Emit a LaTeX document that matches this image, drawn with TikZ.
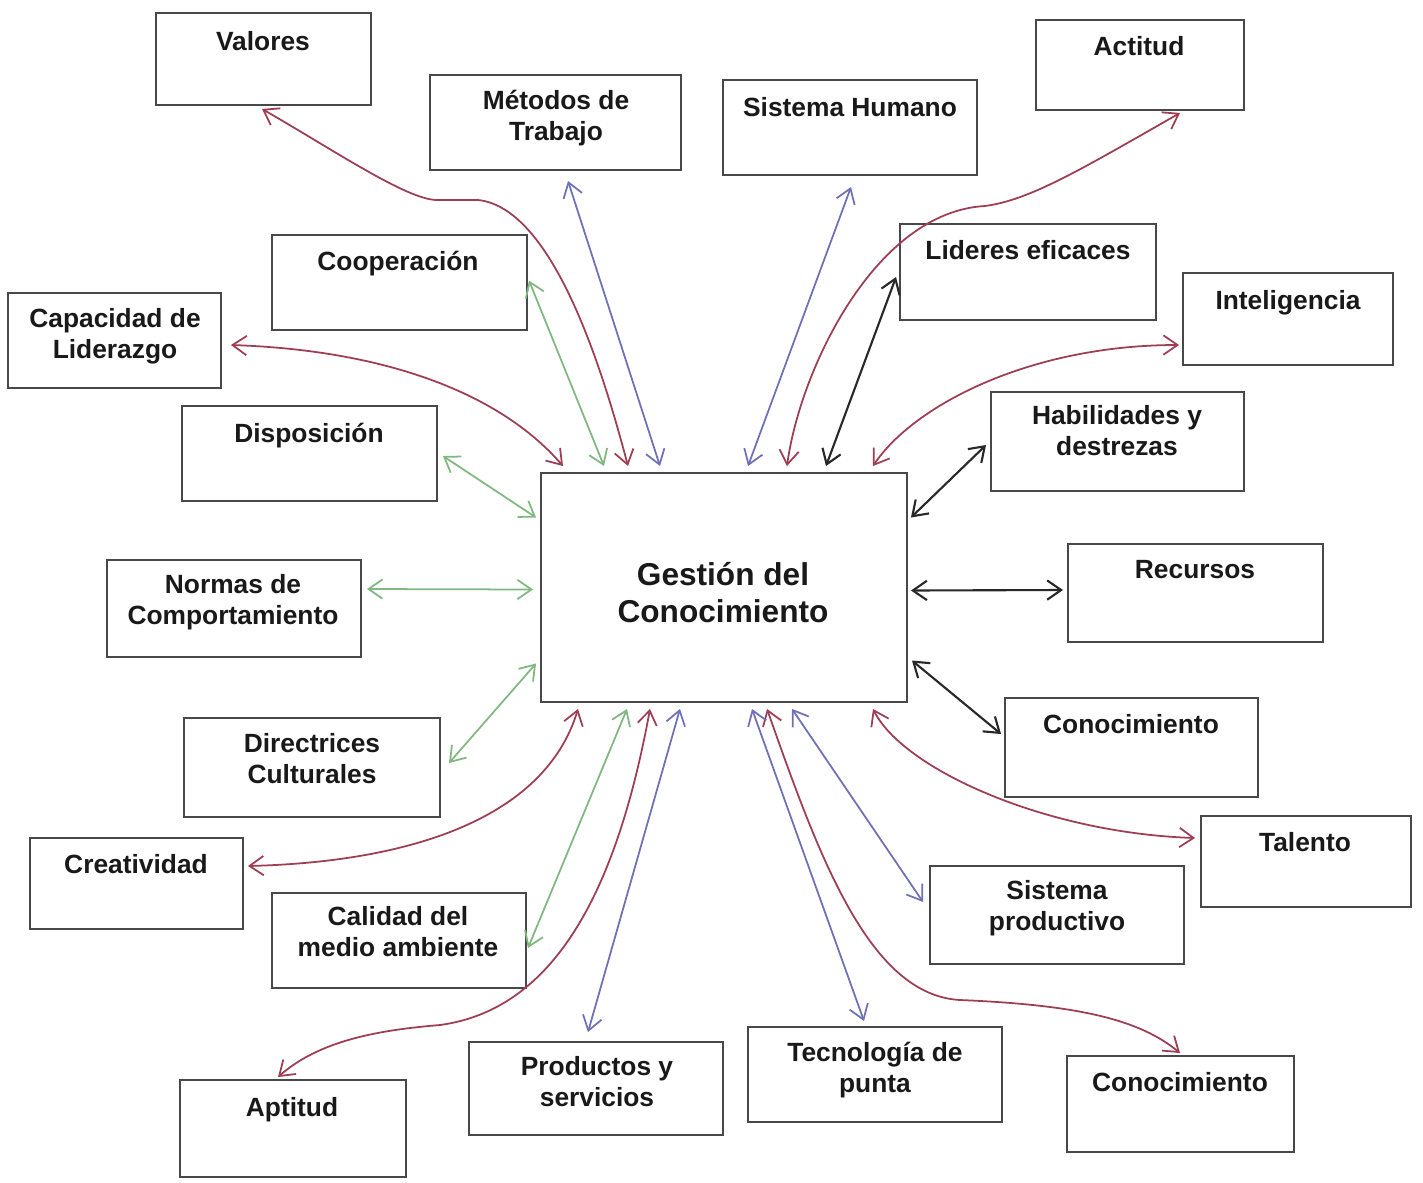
\documentclass[tikz,border=0pt]{standalone}
\usepackage{fontspec}
\setmainfont{Liberation Sans}
\usetikzlibrary{arrows.meta,calc,fit}

\definecolor{rojo}{RGB}{158,62,84}
\definecolor{azul}{RGB}{112,112,184}
\definecolor{verde}{RGB}{128,184,128}
\definecolor{negro}{RGB}{40,40,40}
\definecolor{borde}{RGB}{72,72,72}
\definecolor{tinta}{RGB}{25,25,25}

\begin{document}
\begin{tikzpicture}[x=0.02cm,y=-0.02cm,
  caja/.style={draw=borde, line width=1.1pt, inner sep=0pt, fill=white},
  lbl/.style={anchor=north, yshift=11.5pt, inner sep=0pt, align=center, text=tinta,
    font=\bfseries\fontsize{15}{17.8}\selectfont,
    execute at begin node=\rule{0pt}{11.5pt}},
  lblc/.style={anchor=north, yshift=14pt, inner sep=0pt, align=center, text=tinta,
    font=\bfseries\fontsize{18}{21}\selectfont,
    execute at begin node=\rule{0pt}{14pt}},
  doble/.style={line width=1pt,
    {Straight Barb[length=8pt,width=11pt]}-{Straight Barb[length=8pt,width=11pt]}},
  ar/.style={doble, draw=rojo},
  az/.style={doble, draw=azul},
  ve/.style={doble, draw=verde},
  ne/.style={doble, draw=negro, line width=1.2pt}]

% page
\fill[white] (0,0) rectangle (1423,1183);
\useasboundingbox (0,0) rectangle (1423,1183);

% boxes
\node[caja, fit={(541,473)(907,702)}] (cen) {};
\node[caja, fit={(156,13)(371,105)}] (valores) {};
\node[caja, fit={(430,75)(681,170)}] (metodos) {};
\node[caja, fit={(723,80)(977,175)}] (sishum) {};
\node[caja, fit={(1036,20)(1244,110)}] (actitud) {};
\node[caja, fit={(272,235)(527,330)}] (coop) {};
\node[caja, fit={(900,224)(1156,320)}] (lideres) {};
\node[caja, fit={(1183,273)(1393,365)}] (intel) {};
\node[caja, fit={(8,293)(221,388)}] (capac) {};
\node[caja, fit={(182,406)(437,501)}] (dispo) {};
\node[caja, fit={(991,392)(1244,491)}] (habil) {};
\node[caja, fit={(107,560)(361,657)}] (normas) {};
\node[caja, fit={(1068,544)(1323,642)}] (recursos) {};
\node[caja, fit={(184,718)(440,817)}] (direct) {};
\node[caja, fit={(1005,698)(1258,797)}] (conocR) {};
\node[caja, fit={(30,838)(243,929)}] (creat) {};
\node[caja, fit={(1201,816)(1411,907)}] (talento) {};
\node[caja, fit={(272,893)(526,988)}] (calidad) {};
\node[caja, fit={(930,866)(1184,964)}] (sisprod) {};
\node[caja, fit={(180,1080)(406,1177)}] (aptitud) {};
\node[caja, fit={(469,1042)(723,1135)}] (productos) {};
\node[caja, fit={(748,1027)(1002,1122)}] (tecno) {};
\node[caja, fit={(1067,1056)(1294,1152)}] (conocB) {};

% labels (placed at the baseline of their first line)
\node[lblc] (cen-t) at (723,587) {Gestión del\\Conocimiento};
\node[lbl] (valores-t) at (263,50) {Valores};
\node[lbl] (metodos-t) at (556,110) {Métodos de\\Trabajo};
\node[lbl] (sishum-t) at (850,116) {Sistema Humano};
\node[lbl] (actitud-t) at (1139,55) {Actitud};
\node[lbl] (coop-t) at (398,270) {Cooperación};
\node[lbl] (lideres-t) at (1028,259) {Lideres eficaces};
\node[lbl] (intel-t) at (1288,309) {Inteligencia};
\node[lbl] (capac-t) at (115,328) {Capacidad de\\Liderazgo};
\node[lbl] (dispo-t) at (309,442) {Disposición};
\node[lbl] (habil-t) at (1117,425) {Habilidades y\\destrezas};
\node[lbl] (normas-t) at (233,594) {Normas de\\Comportamiento};
\node[lbl] (recursos-t) at (1195,578) {Recursos};
\node[lbl] (direct-t) at (312,753) {Directrices\\Culturales};
\node[lbl] (conocR-t) at (1131,733) {Conocimiento};
\node[lbl] (creat-t) at (136,873) {Creatividad};
\node[lbl] (talento-t) at (1305,851) {Talento};
\node[lbl] (calidad-t) at (398,926) {Calidad del\\medio ambiente};
\node[lbl] (sisprod-t) at (1057,900) {Sistema\\productivo};
\node[lbl] (aptitud-t) at (292,1116) {Aptitud};
\node[lbl] (productos-t) at (597,1076) {Productos y\\servicios};
\node[lbl] (tecno-t) at (875,1062) {Tecnología de\\punta};
\node[lbl] (conocB-t) at (1180,1091) {Conocimiento};

% red curved links
\draw[ar] ($(valores.south)+(-1.5,3)$) .. controls +(70,40) and +(-30,0) .. (437,200)
  -- (478,200) .. controls +(77,8) and +(-23,-87) .. ($(cen.north)+(-96,-6)$);
\draw[ar] ($(capac.east)+(9,4.5)$) .. controls +(150,5) and +(-65,-75) .. ($(cen.north)+(-161,-6)$);
\draw[ar] ($(actitud.south)+(40,2)$) .. controls (1080,170) and (1030,200) .. (985,206)
  .. controls (875,212) and (800,370) .. ($(cen.north)+(63,-6)$);
\draw[ar] ($(intel.west)+(-3,26)$) .. controls +(-150,0) and +(40,-60) .. ($(cen.north)+(149,-6)$);
\draw[ar] ($(talento.west)+(-5,-23.5)$) .. controls +(-150,-5) and +(30,60) .. ($(cen.south)+(149,6)$);
\draw[ar] ($(conocB.north)+(-0.5,-2)$) .. controls (1140,1020) and (1080,1005) .. (960,1000)
  .. controls (870,995) and (820,860) .. ($(cen.south)+(43,6)$);
\draw[ar] ($(aptitud.north)+(-15,-2)$) .. controls (320,1040) and (380,1030) .. (440,1025)
  .. controls (550,1010) and (615,900) .. ($(cen.south)+(-74,6)$);
\draw[ar] ($(creat.east)+(4,-17.5)$) .. controls +(163,-4) and +(-33,109) .. ($(cen.south)+(-146,6)$);

% blue links
\draw[az] ($(metodos.south)+(12.5,10)$) -- ($(cen.north)+(-64,-6)$);
\draw[az] ($(sishum.south)+(1,11)$) -- ($(cen.north)+(24,-6)$);
\draw[az] ($(productos.north)+(-8,-9)$) -- ($(cen.south)+(-44,6)$);
\draw[az] ($(tecno.north)+(-11,-5)$) -- ($(cen.south)+(28,6)$);
\draw[az] ($(sisprod.west)+(-6,-13)$) -- ($(cen.south)+(68,6)$);

% green links
\draw[ve] ($(coop.east)+(1,-2)$) -- ($(cen.north)+(-120,-6)$);
\draw[ve] ($(dispo.east)+(5,2.5)$) -- ($(cen.west)+(-4,-70)$);
\draw[ve] ($(normas.east)+(5,-19.5)$) -- ($(cen.west)+(-7,2)$);
\draw[ve] ($(direct.east)+(8,-4.5)$) -- ($(cen.west)+(-4,76)$);
\draw[ve] ($(calidad.east)+(1,7.5)$) -- ($(cen.south)+(-97,6)$);

% black links
\draw[ne] ($(lideres.west)+(-3,5)$) -- ($(cen.north)+(102,-6)$);
\draw[ne] ($(habil.west)+(-4,3.5)$) -- ($(cen.east)+(3,-70)$);
\draw[ne] ($(recursos.west)+(-4,-3)$) -- ($(cen.east)+(3,3)$);
\draw[ne] ($(conocR.west)+(-3,-13.5)$) -- ($(cen.east)+(4,73)$);
\end{tikzpicture}
\end{document}
